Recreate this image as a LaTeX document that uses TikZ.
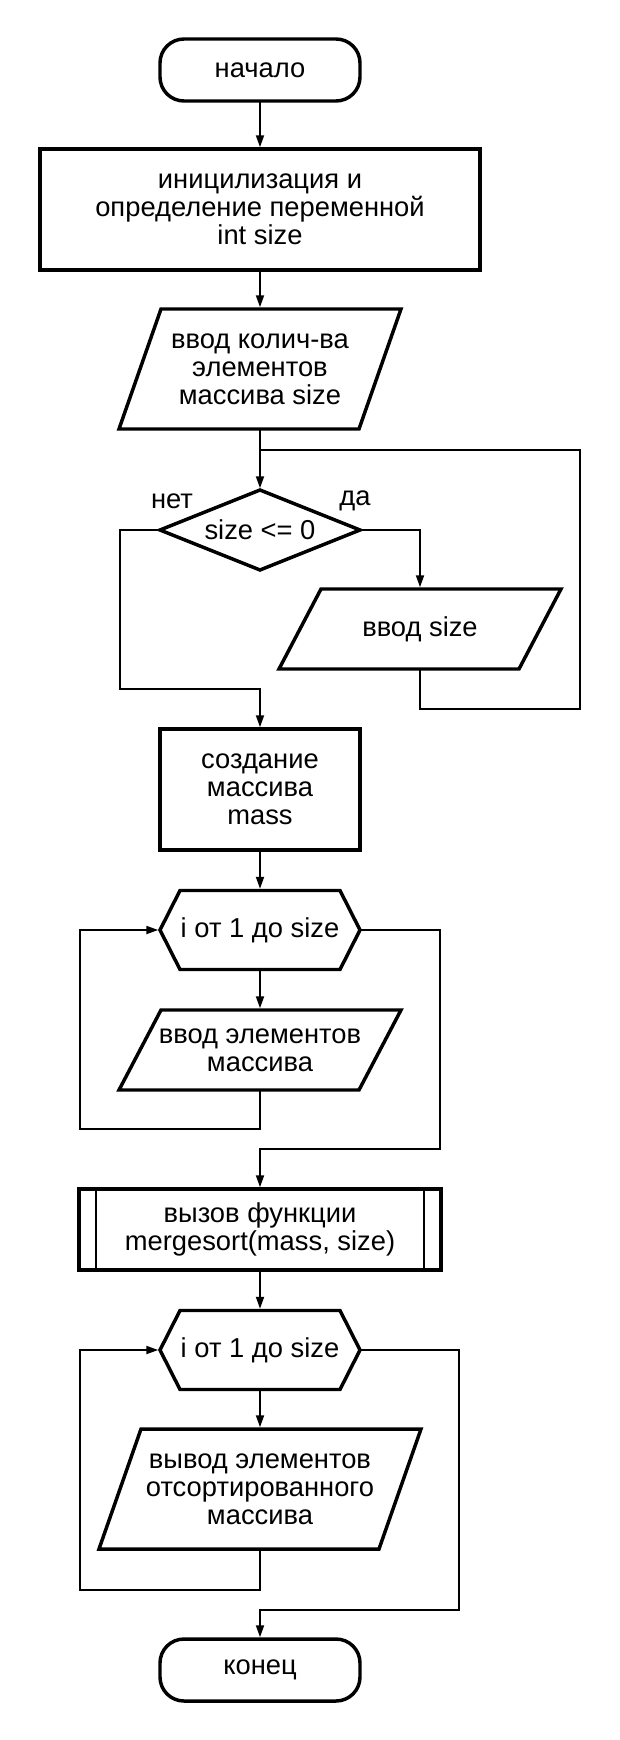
\documentclass[tikz,border=0pt]{standalone}
\usepackage{fontspec}
\setmainfont{Liberation Sans}
\usetikzlibrary{arrows.meta}
\begin{document}
\begin{tikzpicture}[x=0.75pt,y=-0.75pt,
  every node/.style={outer sep=0pt, inner sep=0pt, align=center,
    font=\fontsize{20.5}{21}\selectfont},
  shp/.style={line width=2.6pt, line join=miter},
  term/.style={draw, shp, rounded corners=18pt, minimum width=150pt, minimum height=46.5pt},
  proc/.style={draw, shp, minimum height=90.75pt},
  ghost/.style={},
  conn/.style={line width=1.4pt},
  arr/.style={conn, -{Triangle[length=9pt,width=6pt]}, shorten >=1.3pt},
  lbl/.style={}
]
\useasboundingbox (0,0) rectangle (620,1740);

% ---------- nodes ----------
\node[term] (start) at (260,70) {начало};
\node[proc, minimum width=330pt] (init) at (260,209.5)
  {иницилизация и\\определение переменной\\int size};
\node[ghost, minimum width=180pt, minimum height=90pt] (in1) at (260,369)
  {ввод колич-ва\\элементов\\массива size};
\node[ghost, minimum width=150pt, minimum height=60pt] (cond) at (260,530) {size <= 0};
\node[lbl] (no) at (172,501) {нет};
\node[lbl] (yes) at (355,501) {да};
\node[ghost, minimum width=180pt, minimum height=60pt] (in2) at (420,629) {ввод size};
\node[proc, minimum width=150pt] (mk) at (260,789.5) {создание\\массива\\mass};
\node[ghost, minimum width=150pt, minimum height=59.25pt] (loop1) at (260,930) {i от 1 до size};
\node[ghost, minimum width=180pt, minimum height=60pt] (in3) at (260,1050)
  {ввод элементов\\массива};
\node[draw, shp, minimum width=271.5pt, minimum height=60.75pt] (call) at (260,1229.5)
  {вызов функции\\mergesort(mass, size)};
\node[ghost, minimum width=150pt, minimum height=59.25pt] (loop2) at (260,1350) {i от 1 до size};
\node[ghost, minimum width=210pt, minimum height=90pt] (out) at (260,1489)
  {вывод элементов\\отсортированного\\массива};
\node[term] (stop) at (260,1670) {конец};

% ---------- shapes drawn around ghost nodes ----------
\draw[shp] ([xshift=15.75pt]in1.north west) -- ([xshift=15.75pt]in1.north east)
  -- ([xshift=-15.75pt]in1.south east) -- ([xshift=-15.75pt]in1.south west) -- cycle;
\draw[shp] (cond.north) -- (cond.east) -- (cond.south) -- (cond.west) -- cycle;
\draw[shp] ([xshift=15.75pt]in2.north west) -- ([xshift=15.75pt]in2.north east)
  -- ([xshift=-15.75pt]in2.south east) -- ([xshift=-15.75pt]in2.south west) -- cycle;
\draw[shp] ([xshift=15pt]loop1.north west) -- ([xshift=-15pt]loop1.north east) -- (loop1.east)
  -- ([xshift=-15pt]loop1.south east) -- ([xshift=15pt]loop1.south west) -- (loop1.west) -- cycle;
\draw[shp] ([xshift=15.75pt]in3.north west) -- ([xshift=15.75pt]in3.north east)
  -- ([xshift=-15.75pt]in3.south east) -- ([xshift=-15.75pt]in3.south west) -- cycle;
\draw[line width=1.5pt] ([xshift=12.75pt]call.north west) -- ([xshift=12.75pt]call.south west);
\draw[line width=1.5pt] ([xshift=-12.75pt]call.north east) -- ([xshift=-12.75pt]call.south east);
\draw[shp] ([xshift=15pt]loop2.north west) -- ([xshift=-15pt]loop2.north east) -- (loop2.east)
  -- ([xshift=-15pt]loop2.south east) -- ([xshift=15pt]loop2.south west) -- (loop2.west) -- cycle;
\draw[shp] ([xshift=15.75pt]out.north west) -- ([xshift=15.75pt]out.north east)
  -- ([xshift=-15.75pt]out.south east) -- ([xshift=-15.75pt]out.south west) -- cycle;

% ---------- junction points ----------
\coordinate (j1) at (260,450);
\coordinate (rr) at (580,709);
\coordinate (lb) at (120,689);
\coordinate (l1) at (80,1129);
\coordinate (e1) at (440,1149);
\coordinate (l2) at (80,1590);
\coordinate (e2) at (459,1610);

% ---------- connectors ----------
\draw[arr] (start.south) -- (init.north);
\draw[arr] (init.south) -- (in1.north);
\draw[arr] (in1.south) -- (cond.north);
\draw[arr] (cond.east) -| (in2.north);
\draw[conn] (in2.south) |- (rr) |- (j1);
\draw[arr] (cond.west) -| (lb) -| (mk.north);
\draw[arr] (mk.south) -- (loop1.north);
\draw[arr] (loop1.south) -- (in3.north);
\draw[arr] (in3.south) |- (l1) |- (loop1.west);
\draw[arr] (loop1.east) -| (e1) -| (call.north);
\draw[arr] (call.south) -- (loop2.north);
\draw[arr] (loop2.south) -- (out.north);
\draw[arr] (out.south) |- (l2) |- (loop2.west);
\draw[arr] (loop2.east) -| (e2) -| (stop.north);
\end{tikzpicture}
\end{document}
